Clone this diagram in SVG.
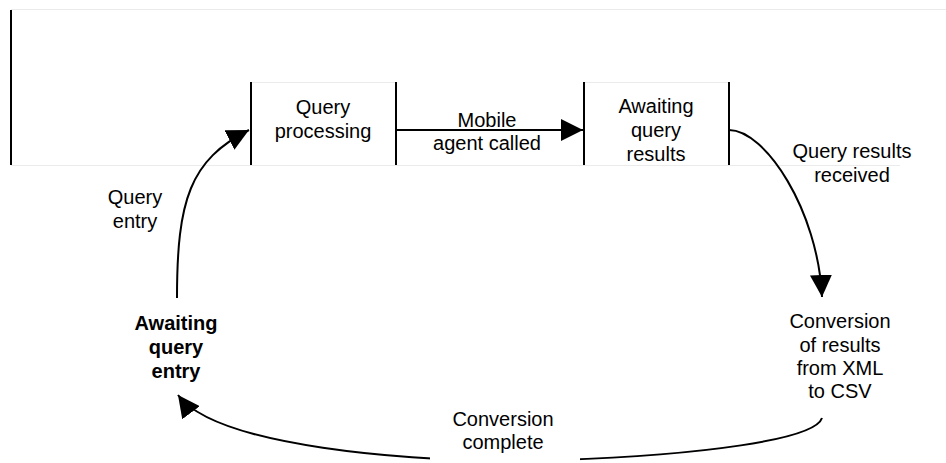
<svg xmlns="http://www.w3.org/2000/svg" width="946" height="463" viewBox="0 0 946 463">
<style>
text{font-family:"Liberation Sans",Arial,sans-serif;font-size:20px;fill:#000;text-anchor:middle}
.b{font-weight:bold}
.side{stroke:#000;stroke-width:2;fill:none}
.faint{stroke:#ebebeb;stroke-width:1;fill:none}
.conn{stroke:#000;stroke-width:2;fill:none}
</style>
<defs>
<marker id="ah" markerUnits="userSpaceOnUse" markerWidth="22" markerHeight="22" viewBox="0 0 20 20" refX="20" refY="10" orient="auto">
<path d="M0,0 L20,10 L0,20 Z" fill="#000"/>
</marker>
</defs>
<g id="frame">
<line class="faint" x1="11" y1="9.5" x2="946" y2="9.5"/>
<line class="faint" x1="11" y1="165.5" x2="900" y2="165.5"/>
<line class="side" x1="11" y1="10" x2="11" y2="165"/>
</g>
<g id="query-processing">
<line class="faint" x1="251" y1="82.5" x2="396" y2="82.5"/>
<line class="side" x1="251" y1="82" x2="251" y2="165"/>
<line class="side" x1="396" y1="82" x2="396" y2="165"/>
<text x="323" y="114">Query</text>
<text x="323" y="138">processing</text>
</g>
<g id="awaiting-query-results">
<line class="faint" x1="584" y1="82.5" x2="729" y2="82.5"/>
<line class="side" x1="584" y1="82" x2="584" y2="165"/>
<line class="side" x1="729" y1="82" x2="729" y2="165"/>
<text x="656" y="113">Awaiting</text>
<text x="656" y="137">query</text>
<text x="656" y="161">results</text>
</g>
<g id="conversion">
<text x="840" y="328">Conversion</text>
<text x="840" y="352">of results</text>
<text x="840" y="375">from XML</text>
<text x="840" y="398">to CSV</text>
</g>
<g id="awaiting-query-entry">
<text class="b" x="176" y="330">Awaiting</text>
<text class="b" x="176" y="354">query</text>
<text class="b" x="176" y="378">entry</text>
</g>
<g id="connectors">
<path class="conn" d="M396,130 L583,130" marker-end="url(#ah)"/>
<path class="conn" d="M729,130 C765,130 818,210 822,297" marker-end="url(#ah)"/>
<path class="conn" d="M822,418 C815,440 700,455 560,460 C400,464 215,445 178,395" marker-end="url(#ah)"/>
<path class="conn" d="M177,298 C177,200 190,160 249,130" marker-end="url(#ah)"/>
</g>
<g id="labels">
<text x="487" y="127">Mobile</text>
<text x="487" y="150">agent called</text>
<text x="852" y="158">Query results</text>
<text x="852" y="182">received</text>
<text x="135" y="204">Query</text>
<text x="135" y="228">entry</text>
<rect x="430" y="406" width="150" height="57" fill="#fff"/>
<text x="503" y="426">Conversion</text>
<text x="503" y="449">complete</text>
</g>
</svg>
